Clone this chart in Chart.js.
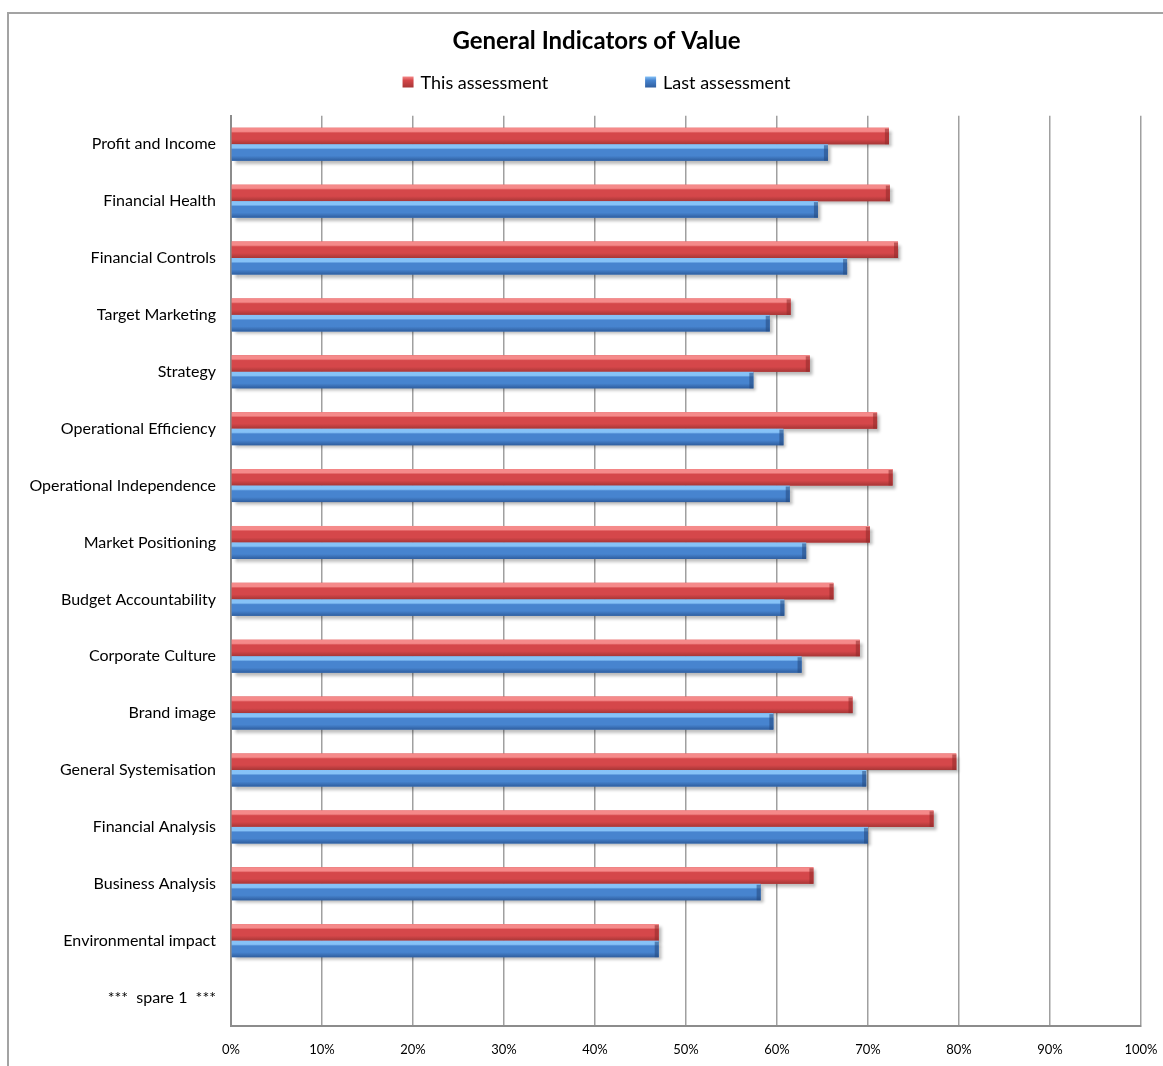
<!DOCTYPE html>
<html>
<head>
<meta charset="utf-8">
<script src="https://cdn.jsdelivr.net/npm/chart.js@4/dist/chart.umd.min.js"></script>
<style>
  html, body { margin: 0; padding: 0; background: #fff; }
  #wrap { width: 1163px; height: 1066px; }
</style>
</head>
<body>
<div id="wrap"><canvas id="myChart" width="1163" height="1066"></canvas></div>
<script>
const categories = [
    'Profit and Income', 'Financial Health', 'Financial Controls', 'Target Marketing',
    'Strategy', 'Operational Efficiency', 'Operational Independence', 'Market Positioning',
    'Budget Accountability', 'Corporate Culture', 'Brand image', 'General Systemisation',
    'Financial Analysis', 'Business Analysis', 'Environmental impact', '***  spare 1  ***'
];
const thisAssessment = [72.3, 72.4, 73.3, 61.5, 63.6, 71.0, 72.7, 70.2, 66.2, 69.1, 68.3, 79.7, 77.2, 64.0, 47.0, null];
const lastAssessment = [65.6, 64.5, 67.7, 59.2, 57.4, 60.7, 61.4, 63.2, 60.8, 62.7, 59.6, 69.8, 70.0, 58.2, 47.0, null];
const seriesNames = ['This assessment', 'Last assessment'];

const FONT = 'Lato, "Open Sans", sans-serif';

// light top edge, flat body, dark lower edge for each series
const shades = [
    { top: '#f58a8a', mid: '#d5474a', low: '#a73636', end: '#8f2a2a' },
    { top: '#86c2f7', mid: '#4784cf', low: '#2f5e9f', end: '#24497d' }
];

// frame around the whole chart, open on the right and at the bottom
const framePlugin = {
    id: 'frame',
    beforeDraw(chart) {
        const ctx = chart.ctx;
        ctx.save();
        ctx.strokeStyle = '#a3a3a3';
        ctx.lineWidth = 2;
        ctx.beginPath();
        ctx.moveTo(8, chart.height);
        ctx.lineTo(8, 13);
        ctx.lineTo(chart.width, 13);
        ctx.stroke();
        ctx.restore();
    }
};

// soft drop shadow under the bars
const shadowPlugin = {
    id: 'barShadow',
    beforeDatasetDraw(chart) {
        const ctx = chart.ctx;
        ctx.save();
        ctx.shadowColor = 'rgba(0,0,0,0.28)';
        ctx.shadowOffsetX = 3;
        ctx.shadowOffsetY = 3;
        ctx.shadowBlur = 3;
    },
    afterDatasetDraw(chart) {
        chart.ctx.restore();
    }
};

// rounded-tube shading on top of each bar
const shadePlugin = {
    id: 'barShade',
    afterDatasetsDraw(chart) {
        const ctx = chart.ctx;
        chart.data.datasets.forEach((ds, di) => {
            const meta = chart.getDatasetMeta(di);
            const s = shades[di];
            meta.data.forEach((bar, i) => {
                if (ds.data[i] == null) return;
                const p = bar.getProps(['x', 'y', 'base', 'height'], true);
                const top = p.y - p.height / 2;
                const left = Math.min(p.base, p.x);
                const w = Math.abs(p.x - p.base);
                const g = ctx.createLinearGradient(0, top, 0, top + p.height);
                g.addColorStop(0, s.top);
                g.addColorStop(0.22, s.top);
                g.addColorStop(0.32, s.mid);
                g.addColorStop(0.7, s.mid);
                g.addColorStop(1, s.low);
                ctx.save();
                ctx.fillStyle = g;
                ctx.fillRect(left, top, w, p.height);
                // bevelled end cap
                ctx.fillStyle = s.end;
                ctx.globalAlpha = 0.55;
                ctx.fillRect(left + w - 4, top + 1, 4, p.height - 1);
                ctx.restore();
            });
        });
    }
};

// legend row under the title: two items, wide gap, centred on the title
const legendPlugin = {
    id: 'wideLegend',
    afterDraw(chart) {
        const ctx = chart.ctx;
        const gap = 97, box = 11, y = 82;
        ctx.save();
        ctx.font = '18px ' + FONT;
        const widths = seriesNames.map(n => box + 7 + ctx.measureText(n).width);
        const total = widths[0] + gap + widths[1];
        const t = chart.titleBlock;
        let x = (t.left + t.right) / 2 - total / 2;
        seriesNames.forEach((name, i) => {
            const s = shades[i];
            const g = ctx.createLinearGradient(0, y - box / 2, 0, y + box / 2);
            g.addColorStop(0, s.top);
            g.addColorStop(0.35, s.mid);
            g.addColorStop(1, s.low);
            ctx.fillStyle = g;
            ctx.fillRect(x, y - box / 2, box, box);
            ctx.fillStyle = '#000';
            ctx.textBaseline = 'middle';
            ctx.textAlign = 'left';
            ctx.fillText(name, x + box + 7, y + 1);
            x += widths[i] + gap;
        });
        ctx.restore();
    }
};

const ctx = document.getElementById('myChart').getContext('2d');
new Chart(ctx, {
    type: 'bar',
    data: {
        labels: categories,
        datasets: [{
            label: seriesNames[0],
            data: thisAssessment,
            backgroundColor: shades[0].mid
        }, {
            label: seriesNames[1],
            data: lastAssessment,
            backgroundColor: shades[1].mid
        }]
    },
    options: {
        indexAxis: 'y',
        responsive: false,
        animation: false,
        devicePixelRatio: 1,
        categoryPercentage: 0.58,
        barPercentage: 1.0,
        layout: { padding: { left: 30, right: 0, top: 0, bottom: 10 } },
        plugins: {
            legend: { display: false },
            tooltip: { enabled: false },
            title: {
                display: true,
                text: 'General Indicators of Value',
                color: '#000',
                font: { family: FONT, size: 24, weight: 'bold' },
                padding: { top: 27, bottom: 60 }
            }
        },
        scales: {
            x: {
                min: 0,
                max: 100,
                afterFit(scale) {
                    scale.height = 30;
                    scale.paddingLeft = 0;
                    scale.paddingRight = 22;
                },
                ticks: {
                    stepSize: 10,
                    padding: 16,
                    color: '#000',
                    font: { family: FONT, size: 13 },
                    callback: v => v + '%'
                },
                grid: { color: '#a0a0a0', lineWidth: 1.5, drawTicks: false },
                border: { color: '#8c8c8c', width: 2 }
            },
            y: {
                afterFit(scale) { scale.width = 201; },
                ticks: {
                    padding: 15,
                    color: '#000',
                    font: { family: FONT, size: 16 },
                    autoSkip: false
                },
                grid: { display: false, drawTicks: false },
                border: { color: '#8c8c8c', width: 2 }
            }
        }
    },
    plugins: [framePlugin, shadowPlugin, shadePlugin, legendPlugin]
});
</script>
</body>
</html>
